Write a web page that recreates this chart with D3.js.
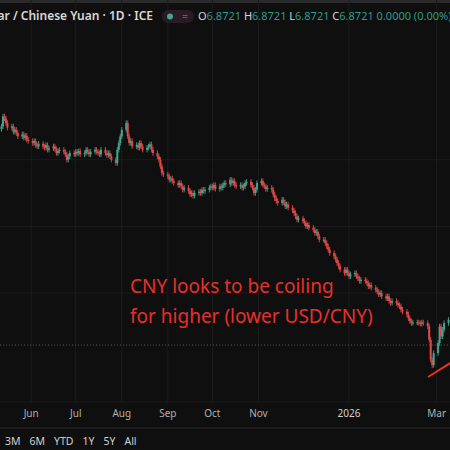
<!DOCTYPE html>
<html><head><meta charset="utf-8">
<script src="https://cdn.jsdelivr.net/npm/d3@7"></script>
<style>body{margin:0;background:#0f0f0f;overflow:hidden}svg{display:block}</style>
</head><body><div id="chart"></div>
<script>
// weekly blocks of daily closes (Mon-Fri), USD/CNY
const startDate = "2025-05-12";
const closes = [
  7.200,7.215,7.212,7.205,7.198, 7.200,7.192,7.195,7.190,7.185, 7.188,7.183,7.186,7.180,7.178,
  7.175,7.178,7.172,7.170,7.174, 7.170,7.168,7.172,7.165,7.167, 7.170,7.166,7.160,7.163,7.165,
  7.162,7.158,7.150,7.155,7.160, 7.158,7.162,7.160,7.163,7.158, 7.160,7.165,7.162,7.158,7.162,
  7.165,7.162,7.160,7.158,7.165, 7.160,7.157,7.160,7.155,7.150, 7.145,7.165,7.175,7.185,7.195,
  7.205,7.185,7.175,7.178,7.170, 7.172,7.168,7.175,7.170,7.165, 7.168,7.170,7.173,7.165,7.160,
  7.155,7.150,7.140,7.130,7.128, 7.125,7.120,7.122,7.118,7.115, 7.112,7.115,7.110,7.105,7.108,
  7.103,7.098,7.100,7.096,7.100, 7.102,7.100,7.105,7.103,7.105, 7.108,7.110,7.108,7.112,7.106,
  7.110,7.108,7.112,7.115,7.113, 7.120,7.115,7.118,7.112,7.110, 7.112,7.108,7.110,7.115,7.117,
  7.112,7.108,7.100,7.105,7.115, 7.118,7.112,7.110,7.106,7.108, 7.105,7.098,7.092,7.088,7.085,
  7.090,7.086,7.080,7.083,7.078, 7.074,7.070,7.065,7.060,7.062, 7.058,7.055,7.050,7.052,7.048,
  7.045,7.040,7.042,7.035,7.030, 7.030,7.025,7.020,7.015,7.010, 7.005,7.000,6.995,6.990,6.985,
  6.980,6.985,6.980,6.975,6.978, 6.980,6.975,6.972,6.968,6.970, 6.968,6.965,6.960,6.962,6.958,
  6.955,6.952,6.948,6.950,6.945, 6.942,6.945,6.938,6.935,6.938, 6.935,6.932,6.930,6.925,6.922,
  6.918,6.912,6.908,6.905,6.906, 6.906,6.905,6.904,6.906,6.905, 6.900,6.880,6.850,6.842,6.860,
  6.875,6.900,6.885,6.895,6.905, 6.910
];
const lastPrice = 6.8721;
const monthTicks = [["2025-06-01","Jun"],["2025-07-01","Jul"],["2025-08-01","Aug"],["2025-09-01","Sep"],
  ["2025-10-01","Oct"],["2025-11-01","Nov"],["2026-01-01","2026"],["2026-03-01","Mar"]];
const rangeButtons = ["3M","6M","YTD","1Y","5Y","All"];
const noteLines = ["CNY looks to be coiling","for higher (lower USD/CNY)"];

const W = 450, H = 450;
const parse = d3.timeParse("%Y-%m-%d");

// build trading days (weekdays)
const data = [];
let d = parse(startDate);
closes.forEach((c, i) => {
  while (d.getDay() === 0 || d.getDay() === 6) d = d3.timeDay.offset(d, 1);
  const o = i === 0 ? c - 0.004 : closes[i - 1];
  data.push({date: d, open: o, close: c, high: Math.max(o, c) + 0.004, low: Math.min(o, c) - 0.004});
  d = d3.timeDay.offset(d, 1);
});

const x = d3.scaleTime().domain([parse("2025-05-11"), parse("2026-03-10")]).range([0, W]);
const y = d3.scaleLinear().domain([6.8721, 7.2171]).range([345, 115]);

const svg = d3.select("#chart").append("svg").attr("width", W).attr("height", H)
  .style("font-family", "'Noto Sans', sans-serif");
svg.append("rect").attr("width", W).attr("height", H).attr("fill", "#0f0f0f");
svg.append("rect").attr("width", W).attr("height", 3).attr("fill", "#2a2a2a");

// grid
monthTicks.forEach(t => {
  svg.append("line").attr("x1", x(parse(t[0]))).attr("x2", x(parse(t[0])))
    .attr("y1", 0).attr("y2", 402).attr("stroke", "#1c1c1c");
});
[6.95, 7.05, 7.15].forEach(p => {
  svg.append("line").attr("x1", 0).attr("x2", W).attr("y1", y(p)).attr("y2", y(p)).attr("stroke", "#1c1c1c");
});

// last price dotted line
svg.append("line").attr("x1", 0).attr("x2", W).attr("y1", y(lastPrice)).attr("y2", y(lastPrice))
  .attr("stroke", "#555").attr("stroke-dasharray", "1,2");

// candles
const up = "#3fa58e", down = "#e0484a";
const g = svg.append("g");
g.selectAll("line.wick").data(data).enter().append("line")
  .attr("x1", d => x(d.date)).attr("x2", d => x(d.date))
  .attr("y1", d => y(d.high)).attr("y2", d => y(d.low))
  .attr("stroke", d => d.close >= d.open ? up : down).attr("stroke-width", 0.9);
g.selectAll("rect.body").data(data).enter().append("rect")
  .attr("x", d => x(d.date) - 1).attr("width", 2)
  .attr("y", d => y(Math.max(d.open, d.close)))
  .attr("height", d => Math.max(1, Math.abs(y(d.open) - y(d.close))))
  .attr("fill", d => d.close >= d.open ? up : down);

// annotation
noteLines.forEach((t, i) => {
  svg.append("text").attr("x", 130).attr("y", 293 + i * 30).attr("fill", "#e8302a")
    .style("font-size", "19px").text(t);
});
svg.append("line").attr("x1", 428).attr("y1", 377).attr("x2", 452).attr("y2", 362)
  .attr("stroke", "#e8302a").attr("stroke-width", 2);

// header
svg.append("text").attr("x", 153).attr("y", 20).attr("text-anchor", "end").attr("fill", "#d8d8d8")
  .style("font-size", "12px").style("font-weight", "600").text("U.S. Dollar / Chinese Yuan · 1D · ICE");
svg.append("rect").attr("x", 162).attr("y", 10).attr("width", 32).attr("height", 13).attr("rx", 6.5).attr("fill", "#2a1a22");
svg.append("circle").attr("cx", 170).attr("cy", 16.5).attr("r", 3).attr("fill", "#3fa58e");
svg.append("text").attr("x", 182).attr("y", 20).attr("fill", "#c0305a").style("font-size", "10px").text("=");
const hdr = svg.append("text").attr("x", 198).attr("y", 20).style("font-size", "11px");
[["O", "6.8721"], ["H", "6.8721"], ["L", "6.8721"], ["C", "6.8721"]].forEach(p => {
  hdr.append("tspan").attr("fill", "#d8d8d8").text(p[0]);
  hdr.append("tspan").attr("fill", "#2e9c86").text(p[1] + " ");
});
hdr.append("tspan").attr("fill", "#2e9c86").text("0.0000 (0.00%)");

// time axis
svg.append("line").attr("x1", 0).attr("x2", W).attr("y1", 402).attr("y2", 402).attr("stroke", "#1c1c1c");
monthTicks.forEach(t => {
  svg.append("text").attr("x", x(parse(t[0]))).attr("y", 417).attr("text-anchor", "middle")
    .attr("fill", t[1] === "2026" ? "#d0d0d0" : "#b0b0b0").style("font-size", "10px").text(t[1]);
});
svg.append("line").attr("x1", 0).attr("x2", W).attr("y1", 428).attr("y2", 428).attr("stroke", "#2c2c2c");
let bx = 5;
rangeButtons.forEach(b => {
  const t = svg.append("text").attr("x", bx).attr("y", 445).attr("fill", "#d0d0d0")
    .style("font-size", "10.5px").text(b);
  bx += t.node().getComputedTextLength() + 9;
});
</script>
</body></html>
